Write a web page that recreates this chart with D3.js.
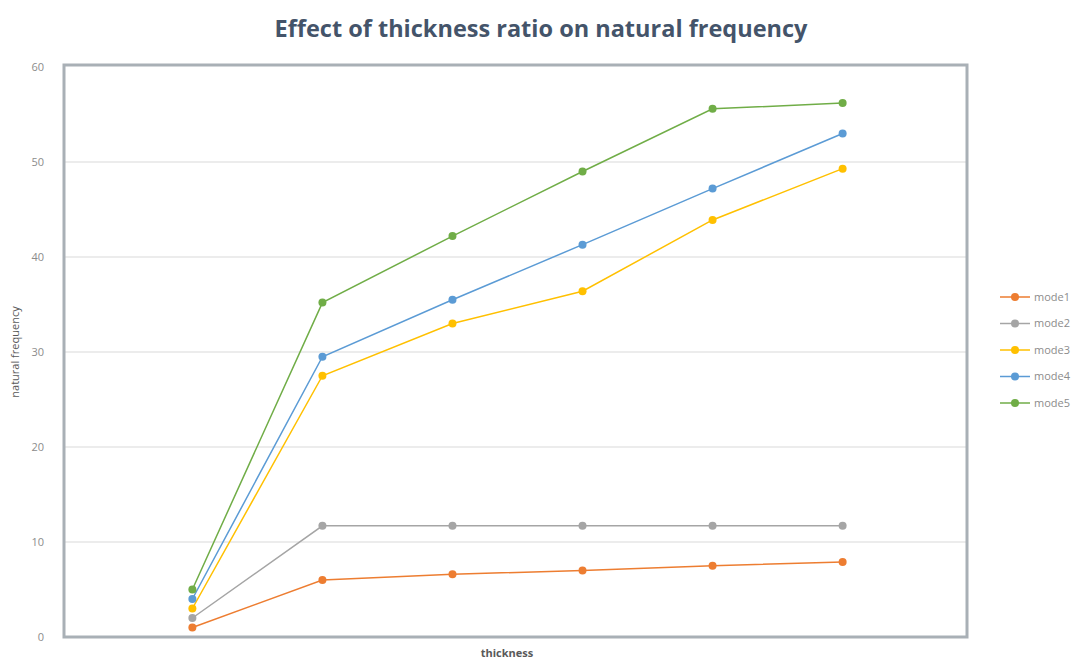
<!DOCTYPE html>
<html>
<head>
<meta charset="utf-8">
<script src="https://cdn.jsdelivr.net/npm/d3@7"></script>
<style>
  body { margin: 0; background: #fff; }
  text { font-family: "Open Sans", sans-serif; }
</style>
</head>
<body>
<script>
// data
var categories = ["t1", "t2", "t3", "t4", "t5", "t6"];
var seriesNames = ["mode1", "mode2", "mode3", "mode4", "mode5"];
var mode1 = [1, 6, 6.6, 7.0, 7.5, 7.9];
var mode2 = [2, 11.7, 11.7, 11.7, 11.7, 11.7];
var mode3 = [3, 27.5, 33, 36.4, 43.9, 49.3];
var mode4 = [4, 29.5, 35.5, 41.3, 47.2, 53];
var mode5 = [5, 35.2, 42.2, 49, 55.6, 56.2];
var yTicks = [0, 10, 20, 30, 40, 50, 60];

var colors = ["#ED7D31", "#A5A5A5", "#FFC000", "#5B9BD5", "#70AD47"];
var allSeries = [mode1, mode2, mode3, mode4, mode5];

var w = 1090, h = 661;
var plot = {left: 64, right: 967, top: 67, bottom: 637};

var svg = d3.select("body")
    .append("svg")
    .attr("width", w)
    .attr("height", h);

var xScale = d3.scalePoint()
    .domain(categories)
    .range([plot.left + 3, plot.right + 1])
    .padding(0.964);

var yScale = d3.scaleLinear()
    .domain([0, 60])
    .range([plot.bottom, plot.top]);

// title
svg.append("text")
    .attr("x", 541)
    .attr("y", 37)
    .attr("text-anchor", "middle")
    .style("font-size", "23.5px")
    .style("font-weight", "bold")
    .style("fill", "#44546A")
    .text("Effect of thickness ratio on natural frequency");

// gridlines
svg.append("g")
    .selectAll("line")
    .data(yTicks.filter(function(d) { return d > 0 && d < 60; }))
    .enter()
    .append("line")
    .attr("x1", plot.left)
    .attr("x2", plot.right)
    .attr("y1", function(d) { return yScale(d); })
    .attr("y2", function(d) { return yScale(d); })
    .attr("stroke", "#e6e6e6")
    .attr("stroke-width", 1.5);

// y axis labels
var yAxis = d3.axisLeft(yScale)
    .tickValues(yTicks)
    .tickSize(0)
    .tickPadding(20);

var gy = svg.append("g")
    .attr("transform", "translate(" + plot.left + ",0)")
    .call(yAxis);
gy.select(".domain").remove();
gy.selectAll("text")
    .style("font-size", "11px")
    .style("fill", "#8c8c8c");

// plot frame
svg.append("rect")
    .attr("x", plot.left)
    .attr("y", plot.top - 2)
    .attr("width", plot.right - plot.left)
    .attr("height", plot.bottom - plot.top + 2)
    .attr("fill", "none")
    .attr("stroke", "#a9b0b6")
    .attr("stroke-width", 3);

// axis titles
svg.append("text")
    .attr("transform", "translate(19," + ((plot.top + plot.bottom) / 2) + ") rotate(-90)")
    .attr("text-anchor", "middle")
    .style("font-size", "11px")
    .style("fill", "#595959")
    .text("natural frequency");

svg.append("text")
    .attr("x", 507)
    .attr("y", 657)
    .attr("text-anchor", "middle")
    .style("font-size", "11px")
    .style("font-weight", "bold")
    .style("fill", "#595959")
    .text("thickness");

// lines and markers
var line = d3.line()
    .x(function(d, i) { return xScale(categories[i]); })
    .y(function(d) { return yScale(d); });

allSeries.forEach(function(values, s) {
    svg.append("path")
        .datum(values)
        .attr("d", line)
        .attr("fill", "none")
        .attr("stroke", colors[s])
        .attr("stroke-width", 1.5);

    svg.append("g")
        .selectAll("circle")
        .data(values)
        .enter()
        .append("circle")
        .attr("cx", function(d, i) { return xScale(categories[i]); })
        .attr("cy", function(d) { return yScale(d); })
        .attr("r", 4)
        .attr("fill", colors[s]);
});

// legend
var legend = svg.append("g")
    .selectAll("g")
    .data(seriesNames)
    .enter()
    .append("g")
    .attr("transform", function(d, i) { return "translate(1000," + (297 + i * 26.5) + ")"; });

legend.append("line")
    .attr("x1", 0)
    .attr("x2", 30)
    .attr("stroke", function(d, i) { return colors[i]; })
    .attr("stroke-width", 1.5);

legend.append("circle")
    .attr("cx", 15)
    .attr("r", 4)
    .attr("fill", function(d, i) { return colors[i]; });

legend.append("text")
    .attr("x", 34)
    .attr("dy", "0.35em")
    .style("font-size", "11px")
    .style("fill", "#8c8c8c")
    .text(function(d) { return d; });
</script>
</body>
</html>
